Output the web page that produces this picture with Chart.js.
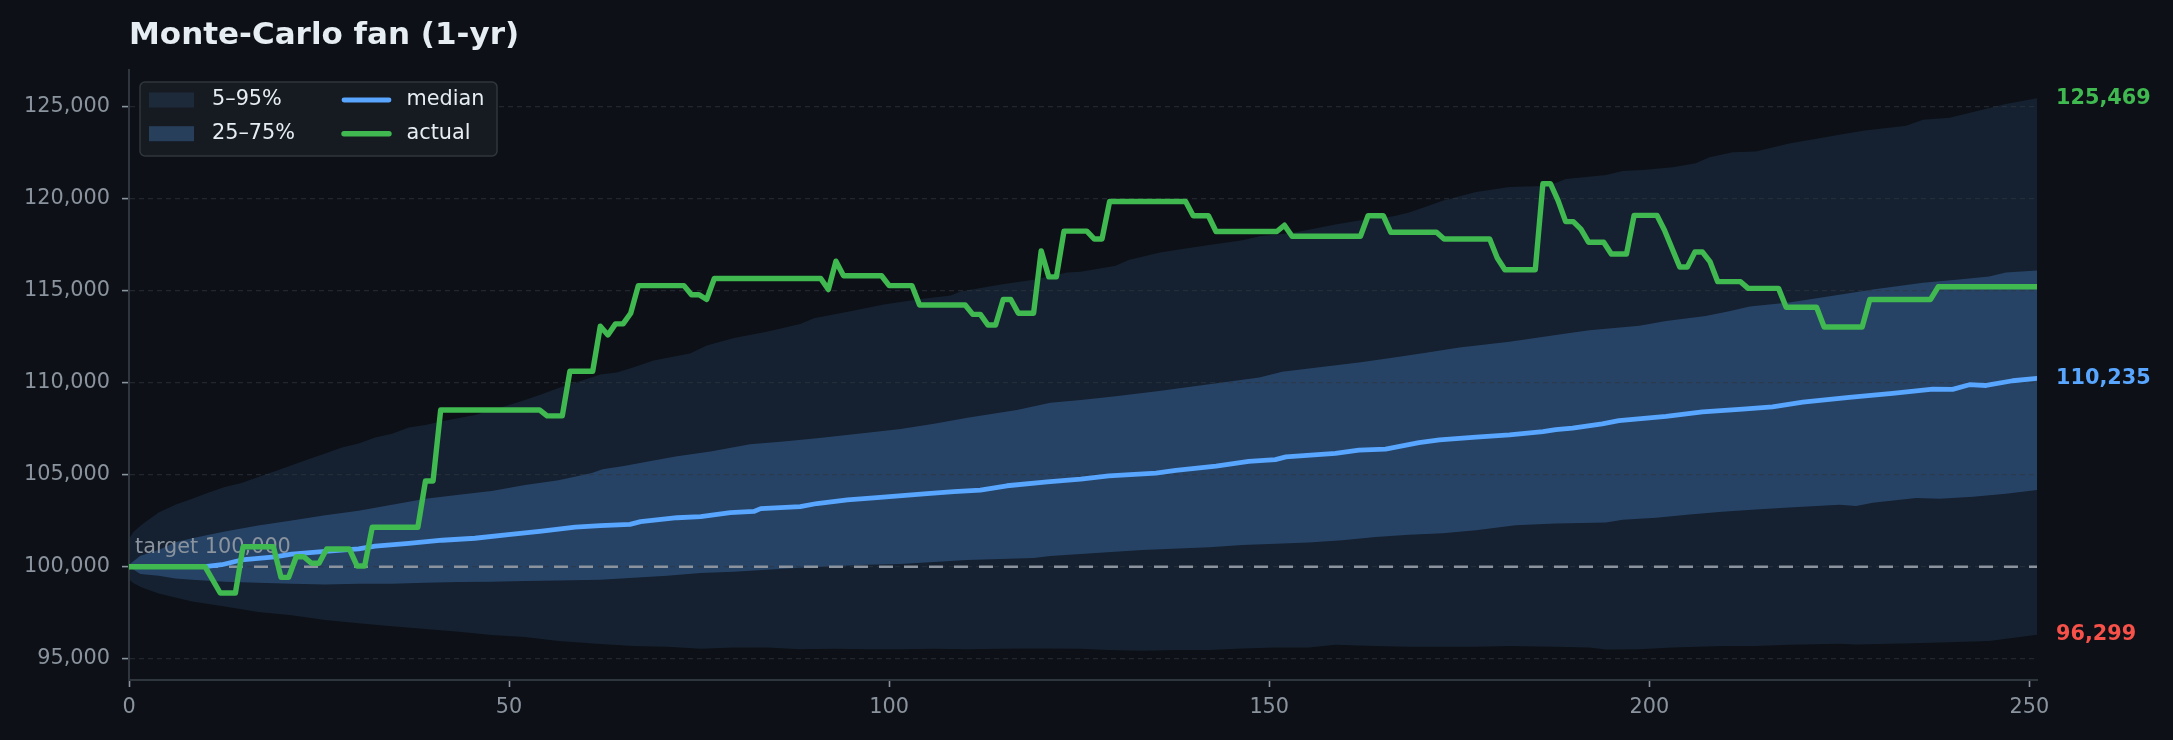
<!DOCTYPE html>
<html>
<head>
<meta charset="utf-8">
<script src="https://cdn.jsdelivr.net/npm/chart.js@4.4.1/dist/chart.umd.min.js"></script>
<style>
  html, body { margin: 0; padding: 0; background: #0d1117; }
  #wrap { width: 2173px; height: 740px; }
</style>
</head>
<body>
<div id="wrap"><canvas id="fan" width="2173" height="740"></canvas></div>
<script>
// Monte-Carlo fan (1-yr)

const xTicks = [0, 50, 100, 150, 200, 250];
const yTicks = [95000, 100000, 105000, 110000, 115000, 120000, 125000];
const targetValue = 100000;
const lastDay = 251;

// [day, value] pairs
const p95 = [[0,101500],[0.6,101900],[1.7,102296],[3.9,102940],[6.1,103369],[8.3,103691],[10.4,104013],[12.6,104335],[14.8,104550],[17,104871],[19.2,105193],[21.4,105515],[23.6,105837],[25.8,106159],[28,106481],[30.2,106696],[32.4,107017],[34.6,107232],[36.8,107561],[39,107700],[41.2,107900],[43.4,108080],[45.5,108250],[47.7,108520],[49.9,108780],[52.1,109060],[54.3,109380],[56.5,109720],[58.7,110000],[62,110451],[64.2,110558],[66.4,110837],[69,111202],[73.8,111588],[76,112018],[79.6,112425],[83.9,112769],[88.3,113198],[90.1,113499],[94.9,113885],[99.3,114249],[103.7,114528],[108.1,114743],[109.4,114958],[114.7,115344],[119,115601],[123.4,115988],[125.2,116031],[129.8,116353],[131.5,116675],[135.5,117061],[137.7,117211],[142.1,117490],[146.5,117748],[148.7,117962],[153,118134],[158.7,118606],[161.8,118820],[166.2,119035],[168.4,119250],[170.6,119572],[172.8,119893],[177.2,120366],[181.6,120645],[186,120700],[187.7,120859],[189,121074],[194.3,121289],[196.5,121503],[199.1,121567],[203.1,121718],[206.1,121933],[207.9,122254],[211,122533],[214,122576],[218.4,123005],[225,123477],[228.1,123692],[233.8,123971],[236,124293],[239.5,124401],[242.6,124722],[246.9,125152],[251,125469]];

const p75 = [[0,100100],[1.5,100600],[3.9,100901],[6.1,101331],[8.3,101545],[12.6,101910],[17,102232],[21.4,102511],[25.8,102790],[30.2,103047],[34.6,103369],[39,103691],[43.4,103906],[47.7,104120],[52.1,104442],[56.5,104700],[60.9,105086],[62.3,105301],[65.1,105472],[69,105773],[72.1,106009],[76.5,106266],[81.7,106653],[86.1,106803],[90.5,106975],[97.1,107275],[101.5,107490],[105.9,107769],[110.3,108090],[116.8,108520],[121.2,108906],[125.2,109056],[129.8,109271],[135.5,109550],[142.1,109915],[148.7,110279],[151.7,110601],[157.4,110880],[161.8,111095],[166.2,111352],[170.6,111631],[175,111910],[181.6,112232],[187.7,112597],[192.1,112855],[198.7,113091],[202.2,113349],[207.4,113628],[210.5,113885],[213.2,114142],[218.4,114357],[225,114786],[229.4,115065],[236,115430],[240.4,115601],[244.7,115773],[246.9,115988],[251,116095]];

const p25 = [[0,100000],[1.5,99600],[3.9,99506],[6.1,99356],[8.3,99292],[12.6,99185],[17,99120],[21.4,99077],[25.8,99034],[30.2,99077],[34.6,99077],[39,99120],[43.4,99163],[47.7,99185],[52.1,99227],[56.5,99249],[62,99292],[66.4,99399],[70.8,99506],[75.2,99657],[79.6,99721],[83.9,99828],[88.3,99936],[92.7,100021],[97.1,100107],[101.5,100150],[105.9,100258],[110.3,100365],[119,100472],[121.2,100579],[125.2,100687],[133.3,100901],[142.1,101052],[146.5,101180],[155.2,101309],[159.6,101438],[164,101610],[168.4,101738],[172.8,101824],[177.2,101974],[182.4,102253],[187.7,102350],[194.3,102404],[196.5,102554],[200.9,102661],[205.3,102833],[209.6,102983],[214,103112],[218.4,103219],[225,103369],[227.2,103305],[229.4,103477],[235.1,103734],[238.2,103691],[242.6,103798],[246.9,103970],[251,104163]];

const p5 = [[0,99300],[0.6,99100],[1.7,98863],[3.9,98541],[6.1,98326],[8.3,98112],[12.6,97833],[17,97532],[21.4,97360],[25.8,97103],[30.2,96931],[34.6,96760],[39,96609],[43.4,96459],[47.7,96287],[52.1,96180],[56.5,95965],[62,95800],[66.4,95686],[70.8,95644],[75.2,95536],[79.6,95601],[83.9,95601],[88.3,95515],[92.7,95536],[97.1,95515],[101.5,95515],[105.9,95536],[110.3,95515],[114.7,95536],[119,95558],[125.2,95536],[128.9,95472],[133.3,95429],[137.7,95472],[142.1,95472],[146.5,95558],[150.8,95601],[155.2,95601],[158.7,95751],[164,95686],[168.4,95644],[172.8,95644],[177.2,95644],[181.6,95686],[187.7,95644],[192.1,95601],[194.3,95493],[198.7,95515],[203.1,95601],[209.6,95686],[214,95686],[218.4,95751],[225,95815],[227.2,95772],[231.6,95815],[236,95858],[240.4,95901],[244.7,95965],[251,96299]];

const median = [[0,100000],[5,100000],[10,100000],[12.2,100107],[14.8,100365],[19.2,100537],[21.4,100687],[25.8,100837],[30.2,100966],[32.4,101116],[36.8,101266],[41.2,101438],[45.5,101545],[49.9,101738],[54.3,101931],[58.7,102146],[62,102232],[65.9,102296],[67.3,102446],[72.1,102661],[75.2,102725],[79.1,102940],[82.2,103004],[83.1,103155],[88.3,103262],[90.5,103434],[94.5,103627],[98.4,103756],[105,103970],[108.5,104077],[112,104163],[115.5,104399],[120.8,104614],[125.2,104764],[128.9,104936],[135.1,105086],[137.7,105236],[143,105472],[147.3,105730],[150.8,105816],[152.2,105966],[158.7,106159],[161.8,106331],[165.3,106395],[169.7,106738],[172.4,106889],[177.2,107039],[181.6,107168],[186,107339],[187.7,107447],[189.9,107532],[193.8,107768],[196,107940],[202.2,108176],[207,108412],[212.3,108562],[216.2,108691],[220.2,108949],[226.3,109206],[232,109421],[237.3,109657],[239.9,109636],[242.1,109893],[244.3,109850],[247.8,110108],[251,110235]];

const actual = [[0,100000],[10,100000],[12,98570],[14,98570],[15,101080],[19,101080],[20,99420],[21,99420],[22,100540],[23,100540],[24,100190],[25,100190],[26,100960],[29,100960],[30,100040],[31,100040],[32,102146],[38,102146],[39,104657],[40,104657],[41,108520],[54,108520],[55,108198],[57,108198],[58,110623],[61,110623],[62,113069],[63,112597],[64,113198],[65,113198],[66,113778],[67,115279],[73,115279],[74,114786],[75,114786],[76,114528],[77,115666],[91,115666],[92,115065],[93,116610],[94,115816],[99,115816],[100,115279],[103,115279],[104,114228],[110,114228],[111,113713],[112,113713],[113,113134],[114,113134],[115,114528],[116,114528],[117,113778],[119,113778],[120,117168],[121,115752],[122,115752],[123,118241],[126,118241],[127,117812],[128,117812],[129,119850],[139,119850],[140,119078],[142,119078],[143,118220],[151,118220],[152,118563],[153,117962],[162,117962],[163,119078],[165,119078],[166,118177],[172,118177],[173,117812],[179,117812],[180,116782],[181,116138],[185,116138],[186,120817],[187,120817],[188,119900],[189,118756],[190,118756],[191,118348],[192,117640],[194,117640],[195,116996],[197,116996],[198,119099],[201,119099],[202,118284],[204,116288],[205,116288],[206,117104],[207,117104],[208,116567],[209,115494],[212,115494],[213,115129],[217,115129],[218,114099],[222,114099],[223,113026],[228,113026],[229,114528],[237,114528],[238,115215],[251,115215]];

const TXT = '#e6edf3';
const MUTED = '#8b949e';
const EDGE = '#30363d';
const BLUE = '#58a6ff';
const GREEN = '#3fb950';
const RED = '#f85149';
const OUTER = 'rgba(88,166,255,0.11)';
const INNER = 'rgba(88,166,255,0.26)';
const FONT = '"DejaVu Sans", sans-serif';

const toPts = arr => arr.map(([x, y]) => ({ x, y }));
const fmt = v => Math.round(v).toLocaleString('en-US');

function band(label, data, fill, color, order) {
  return {
    label, data: toPts(data), order,
    borderWidth: 0, borderColor: 'rgba(0,0,0,0)', pointRadius: 0,
    fill: fill === false ? false : { target: fill, above: color, below: color },
    backgroundColor: color
  };
}

// title, target note, end labels and the legend box
const decor = {
  id: 'decor',
  beforeDatasetsDraw(chart) {
    const { ctx, chartArea: a, scales: { y } } = chart;
    ctx.save();
    ctx.font = '20.8px ' + FONT;
    ctx.fillStyle = MUTED;
    ctx.textBaseline = 'alphabetic';
    ctx.fillText('target ' + fmt(targetValue), a.left + 6, y.getPixelForValue(targetValue) - 13.5);
    ctx.restore();
  },
  afterDraw(chart) {
    const { ctx, chartArea: a, scales: { y } } = chart;
    ctx.save();

    ctx.font = 'bold 31px ' + FONT;
    ctx.fillStyle = TXT;
    ctx.textBaseline = 'alphabetic';
    ctx.fillText('Monte-Carlo fan (1-yr)', a.left, 43.5);

    ctx.font = 'bold 20.8px ' + FONT;
    ctx.textBaseline = 'middle';
    [[p95, GREEN], [median, BLUE], [p5, RED]].forEach(([s, c]) => {
      const v = s[s.length - 1][1];
      ctx.fillStyle = c;
      ctx.fillText(fmt(v), a.right + 19, y.getPixelForValue(v));
    });

    // legend
    const bx = a.left + 11, by = a.top + 12, bw = 357, bh = 74;
    ctx.beginPath();
    ctx.roundRect(bx, by, bw, bh, 5);
    ctx.fillStyle = '#161b22';
    ctx.fill();
    ctx.lineWidth = 1.5;
    ctx.strokeStyle = EDGE;
    ctx.stroke();

    const r1 = by + 18, r2 = by + 51.7;
    ctx.fillStyle = OUTER;
    ctx.fillRect(bx + 9, r1 - 7.5, 45, 15);
    ctx.fillStyle = INNER;
    ctx.fillRect(bx + 9, r2 - 7.5, 45, 15);

    ctx.lineCap = 'round';
    ctx.lineWidth = 4.8;
    ctx.strokeStyle = BLUE;
    ctx.beginPath(); ctx.moveTo(bx + 204, r1); ctx.lineTo(bx + 249, r1); ctx.stroke();
    ctx.lineWidth = 5.4;
    ctx.strokeStyle = GREEN;
    ctx.beginPath(); ctx.moveTo(bx + 204, r2); ctx.lineTo(bx + 249, r2); ctx.stroke();

    ctx.font = '20.8px ' + FONT;
    ctx.fillStyle = TXT;
    ctx.fillText('5–95%', bx + 72, r1);
    ctx.fillText('25–75%', bx + 72, r2);
    ctx.fillText('median', bx + 266.5, r1);
    ctx.fillText('actual', bx + 266.5, r2);
    ctx.restore();
  }
};

new Chart(document.getElementById('fan'), {
  type: 'line',
  data: {
    datasets: [
      band('5–95%', p95, 1, OUTER, 6),
      band('p5', p5, false, OUTER, 5),
      band('25–75%', p75, 3, INNER, 4),
      band('p25', p25, false, INNER, 3),
      {
        label: 'target', order: 2,
        data: [{ x: 0, y: targetValue }, { x: lastDay, y: targetValue }],
        borderColor: MUTED, borderWidth: 2.6, borderDash: [14, 11],
        pointRadius: 0, fill: false
      },
      {
        label: 'median', order: 1, data: toPts(median),
        borderColor: BLUE, borderWidth: 4.8, pointRadius: 0, fill: false,
        borderJoinStyle: 'round', borderCapStyle: 'round'
      },
      {
        label: 'actual', order: 0, data: toPts(actual),
        borderColor: GREEN, borderWidth: 5.4, pointRadius: 0, fill: false,
        borderJoinStyle: 'round', borderCapStyle: 'round'
      }
    ]
  },
  options: {
    responsive: false,
    devicePixelRatio: 1,
    animation: false,
    events: [],
    layout: { padding: { top: 70, right: 136, bottom: 0, left: 0 } },
    elements: { line: { tension: 0 } },
    plugins: {
      legend: { display: false },
      title: { display: false },
      tooltip: { enabled: false },
      filler: { propagate: false, drawTime: 'beforeDraw' }
    },
    scales: {
      x: {
        type: 'linear', min: 0, max: lastDay,
        afterBuildTicks: s => { s.ticks = xTicks.map(v => ({ value: v })); },
        afterFit: s => { s.height = 60; },
        grid: { drawOnChartArea: false, drawTicks: true, tickLength: 7, tickColor: MUTED, tickWidth: 1.6 },
        border: { color: EDGE, width: 2 },
        ticks: {
          color: MUTED, padding: 8, maxRotation: 0, autoSkip: false,
          font: { family: FONT, size: 20.8 },
          callback: v => String(v)
        }
      },
      y: {
        type: 'linear', min: 93840, max: 127000,
        afterBuildTicks: s => { s.ticks = yTicks.map(v => ({ value: v })); },
        afterFit: s => { s.width = 129; },
        grid: { color: 'rgba(48,54,61,0.6)', lineWidth: 1.2, tickLength: 7, tickColor: MUTED, tickWidth: 1.6, tickBorderDash: [] },
        border: { color: EDGE, width: 2, dash: [5, 4] },
        ticks: {
          color: MUTED, padding: 12,
          font: { family: FONT, size: 20.8 },
          callback: v => fmt(v)
        }
      }
    }
  },
  plugins: [decor]
});
</script>
</body>
</html>
